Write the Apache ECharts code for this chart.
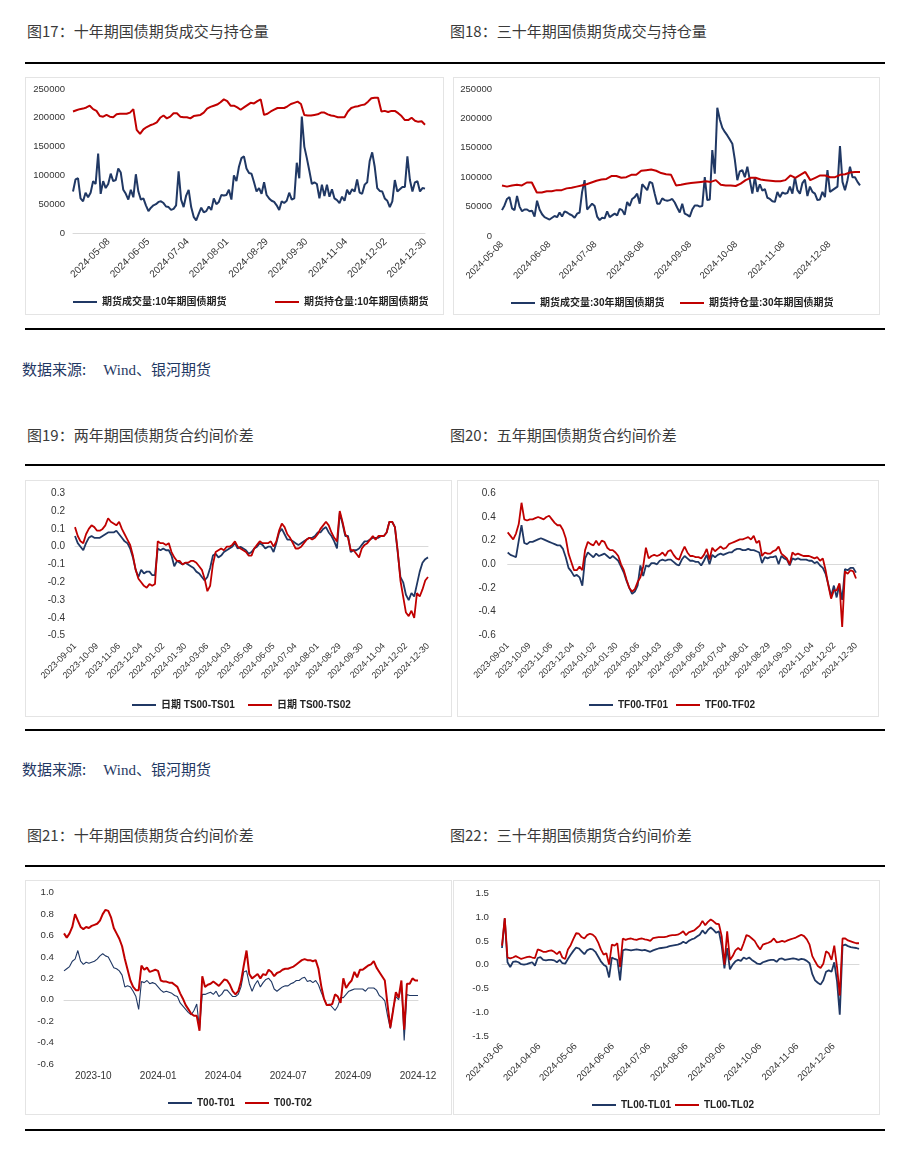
<!DOCTYPE html>
<html><head><meta charset="utf-8">
<script src="https://cdn.jsdelivr.net/npm/echarts@6/dist/echarts.min.js"></script>
<style>
body{margin:0;background:#fff;width:910px;height:1168px;position:relative;overflow:hidden;font-family:"Noto Sans CJK SC",sans-serif;}
.t{position:absolute;font-size:15px;color:#3a3a3a;line-height:20px;white-space:nowrap;}
.rule{position:absolute;left:25px;width:860px;height:2px;background:#000;}
.src{position:absolute;left:22px;font-size:15px;color:#1F3864;line-height:20px;white-space:nowrap;}
.src .w{margin-left:17px;font-family:"Liberation Serif","Noto Sans CJK SC",serif;}
.p{position:absolute;border:1px solid #e4e4e4;box-sizing:border-box;}
.c{position:absolute;}
</style></head><body>
<div class="t" style="left:27px;top:21px">图17：十年期国债期货成交与持仓量</div>
<div class="t" style="left:450px;top:21px">图18：三十年期国债期货成交与持仓量</div>
<div class="rule" style="top:62px"></div>
<div class="p" style="left:25px;top:77px;width:419px;height:238px"></div>
<div class="p" style="left:453px;top:77px;width:427px;height:238px"></div>
<div class="c" id="c1" style="left:25px;top:77px;width:419px;height:238px"></div>
<div class="c" id="c2" style="left:453px;top:77px;width:427px;height:238px"></div>
<div class="rule" style="top:328px"></div>
<div class="src" style="top:359px"><span>数据来源:</span><span class="w">Wind、银河期货</span></div>

<div class="t" style="left:27px;top:425px">图19：两年期国债期货合约间价差</div>
<div class="t" style="left:450px;top:425px">图20：五年期国债期货合约间价差</div>
<div class="rule" style="top:464px"></div>
<div class="p" style="left:25px;top:480px;width:427px;height:237px"></div>
<div class="p" style="left:457px;top:480px;width:422px;height:237px"></div>
<div class="c" id="c3" style="left:25px;top:480px;width:427px;height:237px"></div>
<div class="c" id="c4" style="left:457px;top:480px;width:422px;height:237px"></div>
<div class="rule" style="top:729px"></div>
<div class="src" style="top:759px"><span>数据来源:</span><span class="w">Wind、银河期货</span></div>

<div class="t" style="left:27px;top:825px">图21：十年期国债期货合约间价差</div>
<div class="t" style="left:450px;top:825px">图22：三十年期国债期货合约间价差</div>
<div class="rule" style="top:865px"></div>
<div class="p" style="left:25px;top:880px;width:427px;height:235px"></div>
<div class="p" style="left:453px;top:880px;width:427px;height:235px"></div>
<div class="c" id="c5" style="left:25px;top:880px;width:427px;height:235px"></div>
<div class="c" id="c6" style="left:453px;top:880px;width:427px;height:235px"></div>
<div class="rule" style="top:1129px"></div>

<script>
// ---------- Chart 17: 10Y volume & open interest ----------
const ticks1 = ['2024-05-08','2024-06-05','2024-07-04','2024-08-01','2024-08-29','2024-09-30','2024-11-04','2024-12-02','2024-12-30'];
const tickDay1 = [18,38,58,78,98,118,138,158,178];
const days1 = 179;
const vol10 = [72000,93000,95000,60000,55000,70000,62000,70000,90000,85000,138000,68000,90000,78000,85000,103000,90000,92000,112000,105000,75000,68000,58000,75000,62000,102000,72000,58000,60000,48000,38000,44000,48000,50000,54000,55000,52000,46000,45000,40000,42000,48000,107000,58000,45000,65000,75000,45000,28000,22000,33000,44000,36000,38000,46000,40000,60000,50000,54000,66000,65000,66000,75000,58000,100000,90000,115000,130000,133000,112000,104000,103000,88000,72000,78000,68000,88000,66000,60000,56000,54000,48000,40000,55000,52000,56000,70000,58000,60000,122000,95000,202000,150000,130000,108000,85000,88000,85000,60000,84000,64000,84000,63000,76000,60000,57000,52000,63000,56000,75000,67000,76000,72000,93000,70000,68000,84000,88000,125000,140000,115000,78000,73000,72000,60000,56000,45000,55000,92000,72000,76000,80000,80000,133000,92000,72000,88000,90000,72000,78000,77000];
const oi10 = [211000,213000,215000,216000,218000,221000,215000,212000,203000,202000,205000,202000,201000,206000,207000,207000,207000,209000,215000,179000,172000,180000,184000,187000,189000,192000,200000,204000,199000,202000,208000,208000,202000,201000,201000,199000,203000,204000,205000,209000,216000,219000,221000,223000,227000,232000,229000,221000,221000,218000,214000,218000,222000,226000,225000,229000,232000,205000,207000,211000,214000,217000,217000,217000,220000,224000,226000,228000,224000,205000,204000,204000,205000,206000,209000,209000,206000,204000,203000,201000,201000,201000,211000,217000,219000,220000,222000,223000,228000,234000,235000,235000,211000,212000,210000,212000,212000,208000,203000,196000,196000,200000,195000,193000,194000,188000];

// ---------- Chart 18: 30Y volume & open interest ----------
const ticks2 = ['2024-05-08','2024-06-08','2024-07-08','2024-08-08','2024-09-08','2024-10-08','2024-11-08','2024-12-08'];
const tickDay2 = [0,31,61,92,123,153,184,214];
const days2 = 235;
const vol30 = [44000,52000,63000,66000,47000,44000,68000,50000,42000,45000,45000,42000,43000,33000,60000,45000,37000,32000,30000,28000,31000,34000,32000,40000,33000,42000,40000,37000,35000,31000,38000,40000,75000,95000,45000,50000,55000,51000,33000,27000,31000,30000,42000,32000,35000,38000,35000,46000,44000,36000,58000,51000,63000,66000,72000,55000,88000,83000,78000,92000,90000,72000,55000,55000,64000,61000,60000,61000,63000,57000,48000,40000,55000,38000,36000,33000,45000,52000,52000,50000,51000,100000,61000,62000,146000,106000,218000,198000,184000,177000,171000,164000,157000,130000,95000,110000,112000,100000,118000,95000,72000,100000,75000,88000,77000,80000,65000,63000,59000,58000,75000,66000,74000,72000,73000,84000,72000,100000,78000,72000,90000,96000,68000,84000,75000,72000,61000,62000,75000,66000,112000,75000,78000,81000,84000,153000,92000,78000,95000,118000,100000,100000,92000,86000];
const oi30 = [86000,84000,86000,87000,86000,91000,91000,74000,74000,76000,76000,78000,78000,81000,82000,84000,86000,88000,91000,94000,96000,97000,102000,102000,99000,100000,104000,104000,111000,112000,113000,111000,107000,105000,104000,86000,87000,89000,90000,91000,92000,93000,92000,95000,87000,86000,86000,85000,89000,95000,99000,99000,96000,95000,94000,93000,93000,95000,103000,99000,104000,109000,95000,99000,103000,103000,100000,100000,104000,105000,108000,109000,109000];

// ---------- Chart 19 / 20: spreads, daily from 2023-09-01 ----------
const ticks3 = ['2023-09-01','2023-10-09','2023-11-06','2023-12-04','2024-01-02','2024-01-30','2024-03-06','2024-04-03','2024-05-08','2024-06-05','2024-07-04','2024-08-01','2024-08-29','2024-09-30','2024-11-04','2024-12-02','2024-12-30'];
const tickDay3 = [0,20,40,60,80,100,120,140,160,180,200,220,240,260,280,300,320];
const days3 = 321;
const ts01 = [0.06,0.02,0.00,-0.02,0.02,0.05,0.06,0.05,0.05,0.05,0.06,0.07,0.08,0.08,0.08,0.09,0.07,0.05,0.03,0.02,-0.01,-0.06,-0.13,-0.17,-0.13,-0.15,-0.14,-0.14,-0.16,-0.16,-0.01,-0.02,-0.01,-0.02,-0.02,-0.05,-0.11,-0.08,-0.09,-0.10,-0.09,-0.10,-0.11,-0.12,-0.14,-0.15,-0.17,-0.19,-0.17,-0.12,-0.05,-0.04,-0.06,-0.05,-0.03,-0.02,-0.01,0.00,0.02,-0.01,0.00,-0.01,-0.02,-0.04,-0.03,-0.01,0.00,0.02,0.01,-0.01,0.00,0.00,-0.03,0.02,0.08,0.10,0.07,0.04,0.04,0.03,0.02,0.01,0.02,0.03,0.04,0.05,0.05,0.06,0.08,0.08,0.10,0.11,0.08,0.06,0.03,-0.01,0.19,0.13,0.06,0.06,-0.03,-0.02,-0.02,-0.01,0.01,0.03,0.03,0.04,0.05,0.05,0.05,0.06,0.06,0.08,0.14,0.14,0.11,-0.03,-0.17,-0.20,-0.27,-0.30,-0.26,-0.28,-0.21,-0.14,-0.09,-0.07,-0.06];
const ts02 = [0.11,0.06,0.03,0.02,0.07,0.10,0.12,0.11,0.09,0.09,0.10,0.12,0.16,0.14,0.13,0.12,0.14,0.10,0.07,0.04,0.01,-0.05,-0.13,-0.18,-0.20,-0.22,-0.23,-0.21,-0.22,-0.21,0.03,0.02,0.02,0.01,0.02,-0.03,-0.06,-0.08,-0.08,-0.10,-0.09,-0.09,-0.08,-0.08,-0.09,-0.11,-0.13,-0.18,-0.25,-0.22,-0.10,-0.03,-0.02,-0.01,-0.02,0.00,0.00,0.01,0.03,0.00,-0.01,-0.02,-0.03,-0.05,-0.05,-0.01,0.01,0.03,0.02,0.02,0.02,0.03,0.00,0.03,0.09,0.13,0.11,0.07,0.05,0.02,-0.01,-0.01,0.00,0.02,0.04,0.05,0.04,0.05,0.07,0.10,0.12,0.14,0.12,0.08,0.05,0.03,0.20,0.14,0.07,0.05,-0.02,-0.02,-0.04,-0.06,-0.01,0.01,0.02,0.04,0.06,0.04,0.06,0.06,0.06,0.08,0.14,0.14,0.11,-0.02,-0.19,-0.28,-0.37,-0.39,-0.36,-0.40,-0.26,-0.28,-0.24,-0.19,-0.17];
const tf01 = [0.10,0.08,0.07,0.06,0.20,0.33,0.18,0.17,0.19,0.19,0.20,0.21,0.22,0.21,0.20,0.19,0.18,0.17,0.16,0.16,0.13,0.06,-0.03,-0.06,-0.10,-0.09,-0.11,-0.18,0.05,0.10,0.08,0.06,0.09,0.07,0.08,0.09,0.07,0.05,0.07,0.05,0.03,-0.02,-0.07,-0.14,-0.20,-0.25,-0.23,-0.18,-0.01,-0.10,-0.01,-0.02,0.01,0.01,0.00,0.03,0.04,0.03,0.04,0.04,0.02,0.00,-0.01,0.04,0.07,0.05,0.03,0.03,0.02,0.02,-0.01,0.03,0.08,0.00,0.08,0.06,0.08,0.09,0.08,0.09,0.10,0.10,0.12,0.13,0.13,0.12,0.12,0.13,0.12,0.12,0.11,0.10,0.01,0.06,0.05,0.06,0.06,0.07,0.00,0.07,0.05,0.04,-0.01,0.05,0.04,0.05,0.04,0.04,0.04,0.03,0.03,0.01,0.02,-0.01,-0.03,-0.08,-0.17,-0.27,-0.18,-0.28,-0.17,-0.30,-0.04,-0.05,-0.03,-0.03,-0.07];
const tf02 = [0.27,0.24,0.21,0.26,0.34,0.52,0.38,0.37,0.38,0.38,0.39,0.40,0.39,0.38,0.40,0.41,0.38,0.35,0.33,0.33,0.29,0.22,0.09,0.02,-0.05,-0.05,-0.02,-0.05,0.12,0.19,0.17,0.16,0.20,0.16,0.20,0.19,0.14,0.12,0.12,0.10,0.07,0.00,-0.05,-0.13,-0.20,-0.23,-0.21,-0.15,-0.11,-0.02,0.14,0.05,0.07,0.08,0.07,0.08,0.10,0.07,0.11,0.12,0.08,0.05,0.04,0.10,0.15,0.10,0.07,0.07,0.06,0.06,0.05,0.08,0.13,0.04,0.14,0.11,0.13,0.15,0.13,0.14,0.17,0.18,0.19,0.20,0.21,0.21,0.22,0.23,0.21,0.24,0.18,0.20,0.07,0.10,0.09,0.09,0.11,0.12,0.15,0.09,0.07,0.05,0.00,0.10,0.08,0.09,0.08,0.07,0.07,0.07,0.06,0.05,0.06,0.03,0.05,-0.05,-0.18,-0.29,-0.22,-0.22,-0.16,-0.53,-0.06,-0.08,-0.05,-0.06,-0.12];

// ---------- Chart 21: 10Y spreads ----------
const ticks5 = ['2023-10','2024-01','2024-04','2024-07','2024-09','2024-12'];
const tickDay5 = [27,87,147,207,267,327];
const days5 = 328;
const t01 = [0.27,0.29,0.31,0.36,0.38,0.46,0.36,0.33,0.35,0.34,0.35,0.36,0.38,0.41,0.43,0.41,0.40,0.35,0.30,0.29,0.27,0.23,0.12,0.13,0.12,0.08,0.03,-0.09,0.17,0.16,0.18,0.15,0.16,0.15,0.12,0.09,0.07,0.08,0.07,0.06,0.04,0.03,-0.03,-0.06,-0.09,-0.12,-0.14,-0.10,-0.04,-0.27,0.05,0.05,0.06,0.07,0.05,0.08,0.03,0.05,0.09,0.09,0.06,0.03,0.03,0.05,0.12,0.26,0.27,0.15,0.08,0.14,0.18,0.12,0.16,0.19,0.20,0.17,0.10,0.08,0.10,0.12,0.13,0.13,0.15,0.16,0.18,0.18,0.20,0.21,0.17,0.18,0.16,0.18,0.14,0.07,0.01,-0.05,-0.04,-0.07,-0.10,-0.06,0.02,0.02,0.05,0.08,0.09,0.10,0.10,0.10,0.10,0.08,0.11,0.11,0.11,0.09,0.04,0.02,-0.01,-0.15,-0.27,-0.08,0.03,0.00,0.15,-0.38,0.05,0.04,0.04,0.04,0.04];
const t02 = [0.62,0.58,0.62,0.68,0.80,0.74,0.68,0.66,0.68,0.67,0.69,0.70,0.71,0.74,0.80,0.84,0.83,0.77,0.67,0.62,0.57,0.50,0.38,0.28,0.18,0.12,0.09,0.09,0.32,0.28,0.30,0.26,0.27,0.28,0.27,0.18,0.17,0.17,0.16,0.16,0.14,0.12,0.06,0.01,-0.05,-0.09,-0.13,-0.15,-0.15,-0.29,0.22,0.12,0.14,0.15,0.17,0.15,0.13,0.16,0.19,0.18,0.14,0.08,0.05,0.08,0.17,0.32,0.46,0.24,0.20,0.22,0.24,0.20,0.24,0.23,0.28,0.26,0.22,0.25,0.26,0.28,0.29,0.29,0.30,0.31,0.33,0.35,0.37,0.38,0.37,0.37,0.36,0.37,0.29,0.13,0.01,-0.05,-0.05,-0.04,0.05,0.03,-0.03,0.20,0.11,0.15,0.18,0.26,0.21,0.28,0.28,0.30,0.32,0.33,0.36,0.30,0.26,0.22,0.18,-0.05,-0.26,-0.10,0.07,0.02,0.18,-0.28,0.15,0.15,0.20,0.18,0.18];

// ---------- Chart 22: 30Y spreads ----------
const ticks6 = ['2024-03-06','2024-04-06','2024-05-06','2024-06-06','2024-07-06','2024-08-06','2024-09-06','2024-10-06','2024-11-06','2024-12-06'];
const tickDay6 = [0,31,61,92,122,153,184,214,245,275];
const days6 = 297;
const tl01 = [0.35,0.97,0.05,-0.05,0.06,0.07,0.05,0.01,0.00,0.01,0.03,0.05,-0.02,0.14,0.16,0.10,0.09,0.10,0.10,0.09,0.05,0.10,0.03,0.02,0.12,0.21,0.29,0.36,0.34,0.28,0.22,0.30,0.33,0.32,0.27,0.17,0.07,0.00,-0.04,-0.27,0.15,0.12,0.10,-0.33,0.30,0.32,0.31,0.30,0.31,0.32,0.31,0.30,0.31,0.29,0.27,0.30,0.32,0.34,0.35,0.36,0.37,0.39,0.40,0.41,0.42,0.44,0.48,0.45,0.50,0.53,0.55,0.59,0.63,0.72,0.65,0.73,0.78,0.73,0.67,0.70,0.40,-0.08,0.35,-0.10,0.00,0.07,0.10,0.08,0.15,0.12,0.15,0.10,0.06,0.02,0.01,0.05,0.07,0.09,0.10,0.10,0.06,0.12,0.13,0.10,0.11,0.12,0.13,0.12,0.10,0.12,0.11,0.08,0.03,-0.20,-0.33,-0.38,-0.42,-0.33,-0.15,-0.12,-0.15,0.05,-0.35,-1.05,0.40,0.42,0.39,0.37,0.36,0.35,0.33];
const tl02 = [0.40,0.98,0.15,0.13,0.15,0.18,0.15,0.12,0.14,0.16,0.17,0.15,0.14,0.32,0.30,0.27,0.27,0.29,0.30,0.27,0.22,0.28,0.15,0.12,0.32,0.41,0.54,0.66,0.65,0.58,0.55,0.62,0.65,0.63,0.58,0.47,0.32,0.21,0.24,0.00,0.42,0.40,0.45,-0.05,0.55,0.52,0.54,0.55,0.53,0.52,0.54,0.55,0.53,0.52,0.50,0.56,0.57,0.58,0.58,0.58,0.59,0.61,0.62,0.62,0.63,0.66,0.70,0.62,0.68,0.70,0.72,0.77,0.82,0.92,0.83,0.90,0.95,0.91,0.86,0.85,0.60,0.00,0.70,0.10,0.18,0.30,0.35,0.30,0.45,0.62,0.60,0.55,0.50,0.40,0.32,0.42,0.44,0.46,0.49,0.55,0.47,0.48,0.50,0.48,0.51,0.53,0.55,0.57,0.60,0.63,0.60,0.53,0.42,0.18,0.07,-0.03,-0.07,0.02,0.28,0.24,0.10,0.40,-0.05,-0.65,0.55,0.55,0.51,0.49,0.47,0.45,0.45];

const BLUE = '#203864', RED = '#C00000';
const FONT = '"Liberation Sans", Arial, "Noto Sans CJK SC", sans-serif';

function build(id, o) {
  const chart = echarts.init(document.getElementById(id));
  const slots = new Array(o.days).fill('');
  o.tickDay.forEach((d, k) => { slots[d] = o.ticks[k]; });
  const xAxis = [{
    type: 'category', data: slots, boundaryGap: false, position: 'bottom',
    axisLine: { show: false, onZero: false }, axisTick: { show: false }, splitLine: { show: false },
    axisLabel: { interval: (i, v) => v !== '', rotate: o.rotate, margin: o.xMargin, fontSize: o.xFont,
      color: '#333', fontFamily: FONT, hideOverlap: false }
  }];
  const series = [];
  o.lines.forEach((s, k) => {
    const zl = (k === 0 && o.zeroLine);
    xAxis.push({
      type: 'category', data: s.data.map((_, i) => i), boundaryGap: false, position: 'bottom', show: zl,
      axisLine: { show: zl, onZero: zl, lineStyle: { color: '#d9d9d9', width: 1 } },
      axisTick: { show: false }, axisLabel: { show: false }, splitLine: { show: false }
    });
    series.push({
      type: 'line', name: s.name, xAxisIndex: k + 1, data: s.data, symbol: 'none', showSymbol: false,
      lineStyle: { color: s.color, width: s.width }, itemStyle: { color: s.color },
      z: 3 + k, animation: false, silent: true
    });
  });
  const legend = o.lines.map((s, k) => ({
    data: [s.name], left: o.legendLeft[k], top: o.legendTop, icon: 'rect', itemWidth: 24, itemHeight: 2,
    padding: 0, selectedMode: false,
    textStyle: { fontSize: o.legFont || 10, fontWeight: 'bold', color: '#222', fontFamily: FONT }
  }));
  chart.setOption({
    animation: false,
    grid: Object.assign({ outerBoundsMode: 'none', containLabel: false }, o.grid),
    xAxis: xAxis,
    yAxis: {
      type: 'value', min: o.yMin, max: o.yMax, interval: o.yStep,
      axisLine: { show: false }, axisTick: { show: false }, splitLine: { show: false },
      axisLabel: { margin: o.yMargin, fontSize: o.yFont, color: '#333', fontFamily: FONT,
        formatter: v => o.dec ? (Math.round(v * 10) / 10).toFixed(o.dec) : String(Math.round(v)) }
    },
    legend: legend,
    series: series
  });
}

build('c1', { days: days1, ticks: ticks1, tickDay: tickDay1, rotate: 45, xMargin: 7, xFont: 10,
  grid: { left: 48, right: 19, top: 12, bottom: 82 }, yMin: 0, yMax: 250000, yStep: 50000, yMargin: 8, yFont: 9.5, dec: 0,
  zeroLine: true, legendLeft: [48, 250], legendTop: 220,
  lines: [{ name: '期货成交量:10年期国债期货', data: vol10, color: BLUE, width: 2 },
          { name: '期货持仓量:10年期国债期货', data: oi10, color: RED, width: 2 }] });

build('c2', { days: days2, ticks: ticks2, tickDay: tickDay2, rotate: 45, xMargin: 7, xFont: 9.5,
  grid: { left: 49, right: 20, top: 12, bottom: 79 }, yMin: 0, yMax: 250000, yStep: 50000, yMargin: 10, yFont: 9.5, dec: 0,
  zeroLine: false, legendLeft: [58, 227], legendTop: 221,
  lines: [{ name: '期货成交量:30年期国债期货', data: vol30, color: BLUE, width: 2 },
          { name: '期货持仓量:30年期国债期货', data: oi30, color: RED, width: 2 }] });

build('c3', { days: days3, ticks: ticks3, tickDay: tickDay3, rotate: 45, xMargin: 9, xFont: 9,
  grid: { left: 50, right: 24, top: 13.3, bottom: 81.3 }, yMin: -0.5, yMax: 0.3, yStep: 0.1, yMargin: 10, yFont: 10, dec: 1,
  zeroLine: true, legendLeft: [107, 223], legendTop: 220,
  lines: [{ name: '日期 TS00-TS01', data: ts01, color: BLUE, width: 1.8 },
          { name: '日期 TS00-TS02', data: ts02, color: RED, width: 1.8 }] });

build('c4', { days: days3, ticks: ticks3, tickDay: tickDay3, rotate: 45, xMargin: 9, xFont: 9,
  grid: { left: 50.7, right: 23, top: 13.3, bottom: 81.7 }, yMin: -0.6, yMax: 0.6, yStep: 0.2, yMargin: 12, yFont: 10, dec: 1,
  zeroLine: true, legendLeft: [132, 219], legendTop: 220,
  lines: [{ name: 'TF00-TF01', data: tf01, color: BLUE, width: 1.8 },
          { name: 'TF00-TF02', data: tf02, color: RED, width: 1.8 }] });

build('c5', { days: days5, ticks: ticks5, tickDay: tickDay5, rotate: 0, xMargin: 7, xFont: 10,
  grid: { left: 39, right: 34, top: 12.7, bottom: 51 }, yMin: -0.6, yMax: 1.0, yStep: 0.2, yMargin: 10, yFont: 9.7, dec: 1,
  zeroLine: true, legendLeft: [143, 220], legendTop: 218,
  lines: [{ name: 'T00-T01', data: t01, color: BLUE, width: 1.1 },
          { name: 'T00-T02', data: t02, color: RED, width: 2 }] });

build('c6', { days: days6, ticks: ticks6, tickDay: tickDay6, rotate: 45, xMargin: 9, xFont: 9.5,
  grid: { left: 49, right: 21, top: 13.3, bottom: 79 }, yMin: -1.5, yMax: 1.5, yStep: 0.5, yMargin: 13, yFont: 9.7, dec: 1,
  zeroLine: true, legendLeft: [139, 222], legendTop: 220,
  lines: [{ name: 'TL00-TL01', data: tl01, color: BLUE, width: 1.8 },
          { name: 'TL00-TL02', data: tl02, color: RED, width: 1.8 }] });
</script>
</body></html>
